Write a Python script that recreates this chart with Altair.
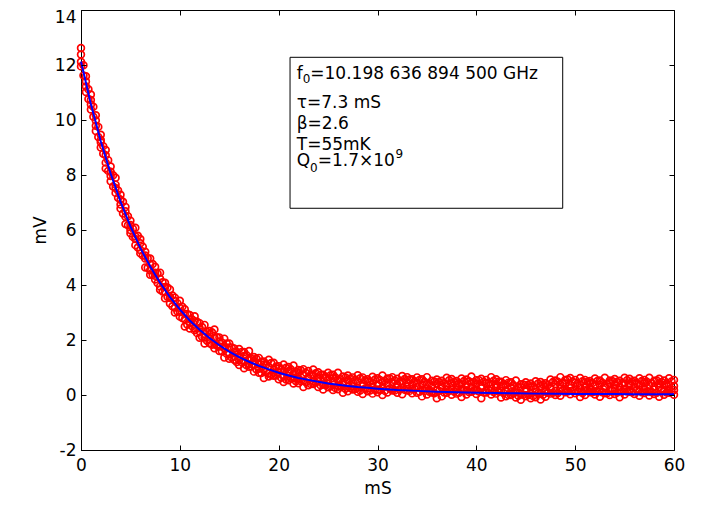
import altair as alt
import pandas as pd

# sample times (ms)
T = [0, 0.5, 1, 1.5, 2, 2.5, 3, 3.5, 4, 4.5,
     5, 5.5, 6, 6.5, 7, 7.5, 8, 8.5, 9, 9.5,
     10, 10.5, 11, 11.5, 12, 12.5, 13, 13.5, 14, 14.5,
     15, 15.5, 16, 16.5, 17, 17.5, 18, 18.5, 19, 19.5,
     20, 20.5, 21, 21.5, 22, 22.5, 23, 23.5, 24, 24.5,
     25, 25.5, 26, 26.5, 27, 27.5, 28, 28.5, 29, 29.5,
     30, 30.5, 31, 31.5, 32, 32.5, 33, 33.5, 34, 34.5,
     35, 35.5, 36, 36.5, 37, 37.5, 38, 38.5, 39, 39.5,
     40, 40.5, 41, 41.5, 42, 42.5, 43, 43.5, 44, 44.5,
     45, 45.5, 46, 46.5, 47, 47.5, 48, 48.5, 49, 49.5,
     50, 50.5, 51, 51.5, 52, 52.5, 53, 53.5, 54, 54.5,
     55, 55.5, 56, 56.5, 57, 57.5, 58, 58.5, 59, 59.5,
     60]

# measured signal (mV), four samples read at each time
MV_A = [12.62, 11.59, 10.93, 10.17, 9.46, 8.91, 8.31, 7.90, 7.28, 6.84,
        6.34, 6.08, 5.67, 5.21, 4.96, 4.66, 4.45, 4.08, 3.84, 3.54,
        3.43, 3.12, 2.91, 2.86, 2.61, 2.55, 2.33, 2.38, 2.09, 2.05,
        1.87, 1.69, 1.67, 1.56, 1.60, 1.38, 1.35, 1.22, 1.28, 1.17,
        1.05, 1.11, 1.02, 1.07, 0.91, 0.94, 0.87, 0.93, 0.83, 0.74,
        0.81, 0.74, 0.81, 0.67, 0.71, 0.64, 0.72, 0.64, 0.57, 0.66,
        0.61, 0.71, 0.60, 0.65, 0.59, 0.69, 0.65, 0.57, 0.64, 0.57,
        0.65, 0.52, 0.56, 0.52, 0.63, 0.58, 0.51, 0.60, 0.56, 0.67,
        0.54, 0.59, 0.55, 0.65, 0.57, 0.48, 0.54, 0.46, 0.53, 0.39,
        0.46, 0.42, 0.50, 0.47, 0.43, 0.56, 0.53, 0.65, 0.55, 0.62,
        0.55, 0.62, 0.55, 0.51, 0.60, 0.53, 0.63, 0.53, 0.58, 0.52,
        0.63, 0.59, 0.52, 0.61, 0.55, 0.63, 0.52, 0.59, 0.53, 0.61,
        0.55]
MV_B = [12.38, 11.40, 10.73, 9.98, 9.27, 8.72, 8.12, 7.65, 7.10, 6.68,
        6.18, 5.77, 5.52, 5.07, 4.75, 4.45, 4.23, 3.93, 3.57, 3.42,
        3.17, 2.95, 2.75, 2.68, 2.43, 2.22, 2.22, 2.07, 1.95, 1.77,
        1.73, 1.56, 1.38, 1.42, 1.32, 1.25, 1.11, 1.11, 1.03, 0.92,
        0.96, 0.87, 0.86, 0.77, 0.81, 0.73, 0.65, 0.72, 0.63, 0.63,
        0.55, 0.61, 0.54, 0.46, 0.54, 0.47, 0.49, 0.42, 0.49, 0.43,
        0.37, 0.48, 0.44, 0.46, 0.40, 0.49, 0.46, 0.38, 0.45, 0.38,
        0.40, 0.34, 0.40, 0.36, 0.32, 0.43, 0.37, 0.39, 0.35, 0.45,
        0.39, 0.32, 0.43, 0.39, 0.40, 0.32, 0.36, 0.28, 0.20, 0.28,
        0.24, 0.28, 0.22, 0.33, 0.30, 0.27, 0.39, 0.37, 0.42, 0.38,
        0.44, 0.37, 0.30, 0.42, 0.36, 0.37, 0.33, 0.43, 0.37, 0.30,
        0.42, 0.39, 0.41, 0.35, 0.42, 0.36, 0.31, 0.42, 0.36, 0.38,
        0.33]
MV_C = [12.12, 11.22, 10.56, 9.79, 9.19, 8.45, 7.96, 7.53, 6.93, 6.48,
        6.00, 5.67, 5.27, 4.96, 4.54, 4.34, 3.95, 3.76, 3.53, 3.18,
        3.03, 2.75, 2.62, 2.42, 2.31, 2.09, 2.04, 1.85, 1.76, 1.70,
        1.48, 1.41, 1.26, 1.22, 1.12, 1.11, 0.95, 0.92, 0.80, 0.81,
        0.82, 0.68, 0.69, 0.62, 0.60, 0.52, 0.59, 0.49, 0.50, 0.38,
        0.41, 0.46, 0.34, 0.37, 0.32, 0.32, 0.26, 0.33, 0.25, 0.29,
        0.20, 0.27, 0.35, 0.24, 0.28, 0.26, 0.30, 0.23, 0.29, 0.20,
        0.24, 0.14, 0.18, 0.26, 0.18, 0.24, 0.20, 0.21, 0.17, 0.28,
        0.20, 0.24, 0.16, 0.23, 0.28, 0.15, 0.16, 0.10, 0.10, 0.03,
        0.13, 0.07, 0.11, 0.05, 0.13, 0.23, 0.15, 0.23, 0.22, 0.25,
        0.18, 0.25, 0.17, 0.24, 0.14, 0.18, 0.26, 0.18, 0.22, 0.18,
        0.22, 0.19, 0.27, 0.19, 0.23, 0.13, 0.20, 0.28, 0.17, 0.21,
        0.18]
MV_D = [11.95, 11.02, 10.38, 9.60, 9.00, 8.24, 7.77, 7.35, 6.78, 6.22,
        5.88, 5.45, 5.15, 4.64, 4.37, 4.20, 3.83, 3.52, 3.33, 3.00,
        2.85, 2.49, 2.42, 2.35, 2.08, 1.87, 1.88, 1.70, 1.60, 1.36,
        1.32, 1.28, 1.09, 0.97, 1.03, 0.85, 0.81, 0.62, 0.67, 0.70,
        0.57, 0.47, 0.54, 0.42, 0.43, 0.29, 0.35, 0.40, 0.29, 0.20,
        0.28, 0.18, 0.21, 0.08, 0.14, 0.20, 0.12, 0.04, 0.14, 0.05,
        0.10, 0.00, 0.09, 0.16, 0.08, 0.03, 0.16, 0.06, 0.08, -0.05,
        0.02, 0.09, -0.12, -0.05, 0.08, 0.01, 0.05, -0.07, 0.02, 0.12,
        0.04, -0.12, 0.09, 0.02, 0.05, -0.09, -0.05, 0.00, -0.09, -0.17,
        -0.05, -0.12, -0.08, -0.16, -0.06, 0.05, 0.00, -0.03, 0.10, 0.03,
        0.06, -0.07, 0.00, 0.10, 0.02, -0.06, 0.06, 0.00, 0.04, -0.08,
        0.02, 0.12, 0.04, -0.03, 0.07, -0.02, 0.04, -0.06, 0.01, 0.08,
        0.01]

# in-between sample times (ms) and two more samples read at each
T_MID = [0.25, 0.75, 1.25, 1.75, 2.25, 2.75, 3.25, 3.75, 4.25, 4.75,
         5.25, 5.75, 6.25, 6.75, 7.25, 7.75, 8.25, 8.75, 9.25, 9.75,
         10.25, 10.75, 11.25, 11.75, 12.25, 12.75, 13.25, 13.75, 14.25, 14.75,
         15.25, 15.75, 16.25, 16.75, 17.25, 17.75, 18.25, 18.75, 19.25, 19.75,
         20.25, 20.75, 21.25, 21.75, 22.25, 22.75, 23.25, 23.75, 24.25, 24.75,
         25.25, 25.75, 26.25, 26.75, 27.25, 27.75, 28.25, 28.75, 29.25, 29.75,
         30.25, 30.75, 31.25, 31.75, 32.25, 32.75, 33.25, 33.75, 34.25, 34.75,
         35.25, 35.75, 36.25, 36.75, 37.25, 37.75, 38.25, 38.75, 39.25, 39.75,
         40.25, 40.75, 41.25, 41.75, 42.25, 42.75, 43.25, 43.75, 44.25, 44.75,
         45.25, 45.75, 46.25, 46.75, 47.25, 47.75, 48.25, 48.75, 49.25, 49.75,
         50.25, 50.75, 51.25, 51.75, 52.25, 52.75, 53.25, 53.75, 54.25, 54.75,
         55.25, 55.75, 56.25, 56.75, 57.25, 57.75, 58.25, 58.75, 59.25, 59.75]
MV_E = [11.99, 11.12, 10.48, 9.75, 9.05, 8.54, 7.99, 7.44, 7.03, 6.50,
        6.05, 5.79, 5.39, 4.97, 4.76, 4.42, 4.10, 3.91, 3.62, 3.34,
        3.21, 2.95, 2.75, 2.66, 2.47, 2.29, 2.28, 2.10, 1.91, 1.87,
        1.73, 1.56, 1.56, 1.45, 1.32, 1.32, 1.21, 1.11, 1.16, 1.04,
        0.94, 0.99, 0.93, 0.84, 0.90, 0.81, 0.74, 0.79, 0.74, 0.66,
        0.72, 0.64, 0.57, 0.64, 0.60, 0.54, 0.61, 0.54, 0.48, 0.56,
        0.55, 0.51, 0.60, 0.53, 0.48, 0.58, 0.56, 0.49, 0.55, 0.48,
        0.42, 0.49, 0.47, 0.43, 0.54, 0.48, 0.42, 0.51, 0.50, 0.46,
        0.54, 0.48, 0.44, 0.52, 0.48, 0.39, 0.45, 0.36, 0.29, 0.38,
        0.37, 0.32, 0.42, 0.38, 0.36, 0.47, 0.48, 0.45, 0.56, 0.49,
        0.42, 0.50, 0.48, 0.44, 0.51, 0.45, 0.41, 0.51, 0.48, 0.43,
        0.54, 0.49, 0.43, 0.51, 0.48, 0.43, 0.53, 0.47, 0.41, 0.49]
MV_F = [11.62, 10.76, 10.12, 9.38, 8.77, 8.15, 7.58, 7.17, 6.60, 6.17,
        5.75, 5.36, 5.07, 4.63, 4.37, 4.07, 3.76, 3.57, 3.23, 3.04,
        2.80, 2.56, 2.50, 2.25, 2.12, 1.97, 1.83, 1.80, 1.59, 1.50,
        1.36, 1.20, 1.20, 1.08, 1.04, 0.93, 0.80, 0.84, 0.73, 0.71,
        0.64, 0.56, 0.61, 0.50, 0.51, 0.46, 0.40, 0.45, 0.35, 0.36,
        0.31, 0.25, 0.32, 0.23, 0.25, 0.22, 0.16, 0.24, 0.16, 0.19,
        0.18, 0.15, 0.24, 0.16, 0.20, 0.19, 0.15, 0.22, 0.12, 0.15,
        0.12, 0.06, 0.15, 0.09, 0.15, 0.13, 0.08, 0.17, 0.11, 0.16,
        0.13, 0.09, 0.19, 0.11, 0.13, 0.07, 0.00, 0.06, -0.03, 0.01,
        0.00, -0.04, 0.06, 0.01, 0.08, 0.08, 0.07, 0.18, 0.13, 0.16,
        0.12, 0.07, 0.16, 0.10, 0.12, 0.10, 0.07, 0.17, 0.09, 0.13,
        0.13, 0.10, 0.18, 0.10, 0.13, 0.11, 0.08, 0.17, 0.09, 0.12]

# fitted decay curve (mV)
FIT_T = [0, 1, 2, 3, 4, 5, 6, 7, 8, 9, 10, 11, 12, 13, 14, 15, 16, 17, 18, 19,
         20, 21, 22, 23, 24, 25, 26, 27, 28, 29, 30, 32, 34, 36, 38, 40, 42,
         44, 46, 48, 50, 52, 54, 56, 58, 60]
FIT_MV = [12.13, 10.58, 9.23, 8.05, 7.03, 6.13, 5.35, 4.67, 4.08, 3.56, 3.11,
          2.71, 2.37, 2.07, 1.81, 1.58, 1.38, 1.21, 1.06, 0.93, 0.81, 0.71,
          0.62, 0.55, 0.48, 0.42, 0.37, 0.33, 0.29, 0.26, 0.23, 0.18, 0.15,
          0.12, 0.10, 0.08, 0.07, 0.06, 0.05, 0.05, 0.04, 0.04, 0.04, 0.03,
          0.03, 0.03]

X_TICKS = [0, 10, 20, 30, 40, 50, 60]
Y_TICKS = [-2, 0, 2, 4, 6, 8, 10, 12, 14]

# annotation box (data units) and its text pieces
BOX = pd.DataFrame({"x": [21.15], "x2": [48.74], "y": [6.79], "y2": [12.28]})
NOTE_TEXT = ["f", "0", "=10.198 636 894 500 GHz", "τ=7.3 mS", "β=2.6",
             "T=55mK", "Q", "0", "=1.7×10", "9"]
NOTE_X = [21.83, 22.43, 23.20, 21.83, 21.83, 21.83, 21.83, 23.18, 23.95, 31.82]
NOTE_Y = [11.49, 11.36, 11.49, 10.42, 9.69, 8.90, 8.32, 8.10, 8.32, 8.61]
NOTE_SIZE = [17, 12, 17, 17, 17, 17, 17, 12, 17, 12]

W, H = 593, 440
FONT = "DejaVu Sans"

pts = pd.concat([
    pd.DataFrame({"t": T, "mv": MV_A}),
    pd.DataFrame({"t": T, "mv": MV_B}),
    pd.DataFrame({"t": T, "mv": MV_C}),
    pd.DataFrame({"t": T, "mv": MV_D}),
    pd.DataFrame({"t": T_MID, "mv": MV_E}),
    pd.DataFrame({"t": T_MID, "mv": MV_F}),
], ignore_index=True)
fit = pd.DataFrame({"t": FIT_T, "mv": FIT_MV})
notes = pd.DataFrame({"text": NOTE_TEXT, "x": NOTE_X, "y": NOTE_Y, "size": NOTE_SIZE})

xs = alt.Scale(domain=[0, 60], nice=False, zero=False)
ys = alt.Scale(domain=[-2, 14], nice=False, zero=False)

label_common = dict(labelFont=FONT, labelFontSize=17, labelColor="black",
                    titleFont=FONT, titleFontSize=17, titleColor="black",
                    titleFontWeight="normal", grid=False, ticks=False, tickSize=0,
                    domainColor="black", labelFlush=False, labelOverlap=False,
                    labelExpr="toString(datum.value)")

x_lab = alt.Axis(orient="bottom", values=X_TICKS, labelPadding=7, title="mS",
                 titleY=43, titleBaseline="alphabetic", **label_common)
y_lab = alt.Axis(orient="left", values=Y_TICKS, labelPadding=5, title="mV",
                 titleX=-36, titleY=H / 2, titleAngle=270, titleAlign="center",
                 titleBaseline="alphabetic",
                 labelOffset={"condition": {"test": "datum.value == 14", "value": 7},
                              "value": 0},
                 **label_common)

tick_common = dict(ticks=True, tickSize=5, tickColor="black", labels=False,
                   domain=False, grid=False, title=None, zindex=1)
x_in_bottom = alt.Axis(orient="top", offset=-H, values=X_TICKS, **tick_common)
x_in_top = alt.Axis(orient="bottom", offset=-H, values=X_TICKS, **tick_common)
y_in_left = alt.Axis(orient="right", offset=-W, values=Y_TICKS, **tick_common)
y_in_right = alt.Axis(orient="left", offset=-W, values=Y_TICKS, **tick_common)

points = alt.Chart(pts).mark_point(
    shape="circle", filled=False, color="#ff0000", size=46, strokeWidth=1.7, opacity=1
).encode(
    x=alt.X("t:Q", scale=xs, axis=x_lab),
    y=alt.Y("mv:Q", scale=ys, axis=y_lab),
)

line = alt.Chart(fit).mark_line(color="#0000ff", strokeWidth=2).encode(
    x=alt.X("t:Q", scale=xs, axis=x_in_bottom),
    y=alt.Y("mv:Q", scale=ys, axis=y_in_left),
)

box = alt.Chart(BOX).mark_rect(fill="transparent", stroke="black", strokeWidth=1).encode(
    x=alt.X("x:Q", scale=xs, axis=x_in_top),
    x2="x2:Q",
    y=alt.Y("y:Q", scale=ys, axis=y_in_right),
    y2="y2:Q",
)

text = alt.Chart(notes).mark_text(
    align="left", baseline="alphabetic", font=FONT, color="black"
).encode(
    x=alt.X("x:Q", scale=xs, axis=None),
    y=alt.Y("y:Q", scale=ys, axis=None),
    text="text:N",
    size=alt.Size("size:Q", scale=None),
)

chart = alt.layer(points, line, box, text).resolve_axis(
    x="independent", y="independent"
).properties(
    width=W, height=H,
    autosize=alt.AutoSizeParams(type="none"),
    padding={"left": 73, "top": 2, "right": 40, "bottom": 52},
    background="white",
).configure_view(stroke="black", strokeWidth=1)

chart.save("out.html", embed_options={"renderer": "svg", "actions": False})
